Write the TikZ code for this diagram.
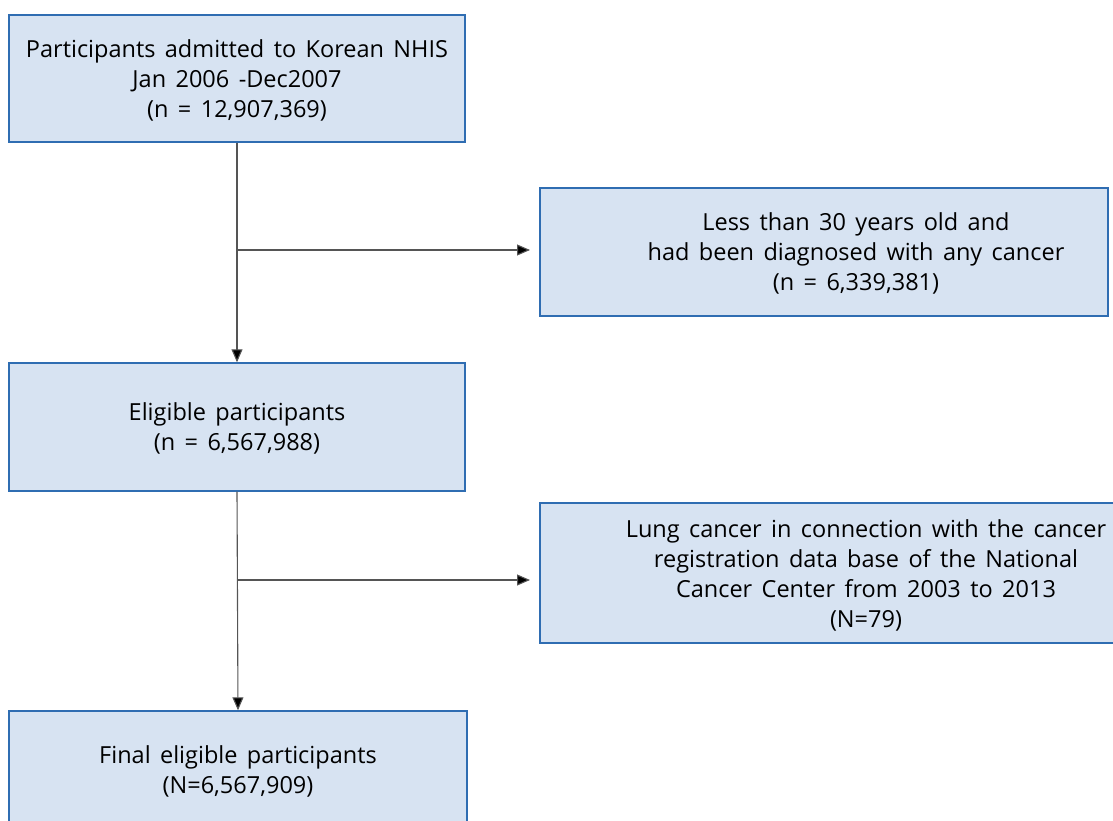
\documentclass[tikz,border=0pt]{standalone}
\usepackage{fontspec}
\setmainfont{Open Sans}
\usetikzlibrary{arrows.meta}
\definecolor{boxfill}{HTML}{D7E3F2}
\definecolor{boxline}{HTML}{2F6DB2}
\definecolor{flowline}{HTML}{555555}
\newcommand{\boxfont}{\fontsize{23.5}{30}\selectfont\spaceskip=0.4em\relax}

\begin{document}
\begin{tikzpicture}[x=1pt, y=-1pt,
  box/.style={rectangle, draw=boxline, fill=boxfill, line width=1.4pt, inner sep=0pt},
  txt/.style={align=center, font=\boxfont, inner sep=0pt},
  flow/.style={draw=flowline, line width=1.1pt, -{Triangle[length=13pt, width=11pt, fill=black]}}]

\useasboundingbox (0,0) rectangle (1113,821);

% main column
\node[box, minimum width=456pt, minimum height=127pt] (start) at (237,78.5) {};
\node[txt] (tstart) at (237,80) {Participants admitted to Korean NHIS\\Jan 2006 -Dec2007\\(n = 12,907,369)};

\node[box, minimum width=456pt, minimum height=128pt] (elig) at (237,427) {};
\node[txt] (telig) at (237,428) {Eligible participants\\(n = 6,567,988)};

\node[box, minimum width=458pt, minimum height=160pt] (final) at (238,791) {};
\node[txt] (tfinal) at (238,771) {Final eligible participants\\(N=6,567,909)};

% exclusions
\node[box, minimum width=568pt, minimum height=128pt] (excl1) at (824,252) {};
\node[txt] (texcl1) at (856,253) {Less than 30 years old and\\had been diagnosed with any cancer\\(n = 6,339,381)};

\node[box, minimum width=590pt, minimum height=140pt] (excl2) at (835,573) {};
\node[txt] (texcl2) at (866,575) {Lung cancer in connection with the cancer\\registration data base of the National\\Cancer Center from 2003 to 2013\\(N=79)};

% connectors
\coordinate (b1) at (238,250);
\coordinate (e1) at (530,250);
\coordinate (b2) at (238,580);
\coordinate (e2) at (530,580);
\draw[flow] (start.south) -- (elig.north);
\draw[flow] (b1) -- (e1);
\draw[flow] (elig.south) -- (final.north);
\draw[flow] (b2) -- (e2);

\end{tikzpicture}
\end{document}
